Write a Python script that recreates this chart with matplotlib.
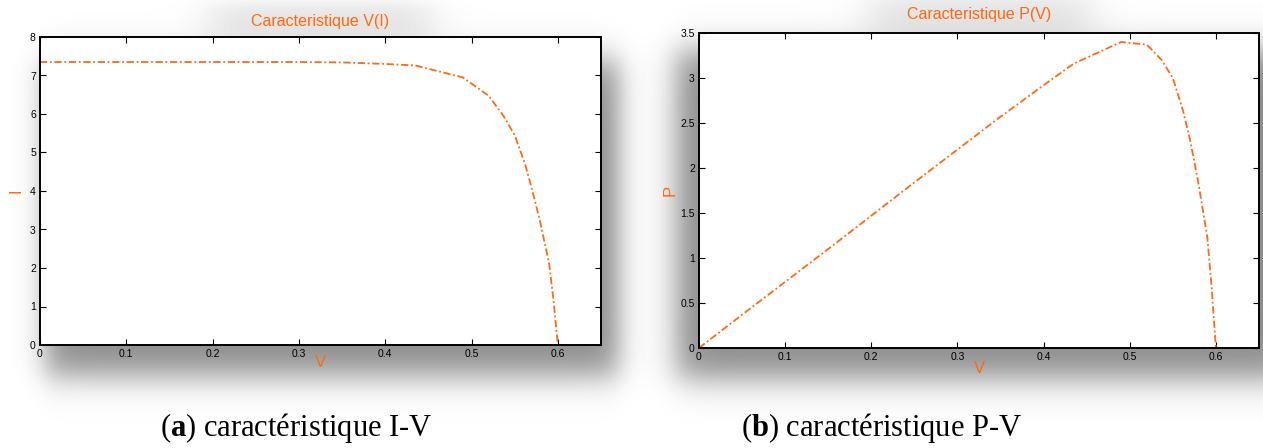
import numpy as np
import matplotlib
matplotlib.use("Agg")
import matplotlib.pyplot as plt

# ---------------- Data ----------------
V_IV = [0.0, 0.05, 0.10, 0.15, 0.20, 0.25, 0.30, 0.35, 0.40, 0.435, 0.49,
        0.52, 0.537, 0.55, 0.562, 0.57, 0.579, 0.59, 0.595, 0.60]
I_vals = [7.35, 7.35, 7.35, 7.35, 7.35, 7.35, 7.35, 7.34, 7.30, 7.26, 6.95,
          6.47, 5.95, 5.45, 4.70, 4.05, 3.25, 2.10, 1.15, 0.0]

V_PV = [0.0, 0.05, 0.10, 0.15, 0.20, 0.25, 0.30, 0.35, 0.40, 0.435, 0.49,
        0.52, 0.537, 0.55, 0.562, 0.57, 0.579, 0.59, 0.595, 0.60]
P_vals = [0.0, 0.37, 0.735, 1.10, 1.47, 1.84, 2.205, 2.57, 2.92, 3.16, 3.40,
          3.37, 3.20, 3.00, 2.63, 2.31, 1.87, 1.23, 0.68, 0.0]

IV_xticks = [0, 0.1, 0.2, 0.3, 0.4, 0.5, 0.6]
IV_yticks = [0, 1, 2, 3, 4, 5, 6, 7, 8]
PV_yticks = [0, 0.5, 1, 1.5, 2, 2.5, 3, 3.5]

ORANGE = "#ff6a10"
SANS = ["Liberation Sans", "DejaVu Sans"]

plt.rcParams["mathtext.fontset"] = "custom"
plt.rcParams["mathtext.rm"] = "Liberation Serif"
plt.rcParams["mathtext.bf"] = "Liberation Serif:bold"

W, H = 1263, 448
fig = plt.figure(figsize=(W / 100, H / 100), dpi=100)

# -------- soft drop shadows behind the panels --------
def band(t, a, b, w):
    return 0.5 * (np.tanh((t - a) / w) - np.tanh((t - b) / w))

xx = np.arange(W)
yy = np.arange(H)
shade = np.zeros((H, W))
# left panel shadow (right / bottom)
shade += 0.45 * np.outer(band(yy, 60, 375, 20), band(xx, 45, 618, 16))
# right panel shadow (left / bottom)
shade += 0.45 * np.outer(band(yy, 50, 378, 20), band(xx, 676, 1300, 18))
# haze around titles
shade += 0.10 * np.outer(band(yy, 2, 40, 10), band(xx, 210, 430, 25))
shade += 0.10 * np.outer(band(yy, -5, 35, 10), band(xx, 870, 1090, 25))
shade = np.clip(shade, 0, 0.5)

rgba = np.zeros((H, W, 4))
rgba[..., 3] = shade
ax_bg = fig.add_axes([0, 0, 1, 1], zorder=0)
ax_bg.imshow(rgba, extent=[0, W, H, 0], aspect="auto", interpolation="bilinear")
ax_bg.set_xlim(0, W)
ax_bg.set_ylim(H, 0)
ax_bg.axis("off")


def style_axes(ax):
    ax.set_facecolor("white")
    for s in ax.spines.values():
        s.set_linewidth(1.4)
        s.set_color("black")
    ax.tick_params(direction="in", length=4, width=0.8, top=True, right=True,
                   labelsize=7.5, pad=3, colors="black")
    for lab in ax.get_xticklabels() + ax.get_yticklabels():
        lab.set_family(SANS)


# -------- (a) I-V --------
ax_iv = fig.add_axes([40 / W, 1 - 345 / H, 561 / W, 308 / H], zorder=2)
ax_iv.plot(V_IV, I_vals, color=ORANGE, lw=1.3, linestyle=(0, (4, 1.5, 1, 1.5)))
ax_iv.set_xlim(0, 0.65)
ax_iv.set_ylim(0, 8)
ax_iv.set_xticks(IV_xticks)
ax_iv.set_xticklabels([f"{t:g}" for t in IV_xticks])
ax_iv.set_yticks(IV_yticks)
style_axes(ax_iv)
ax_iv.set_title("Caracteristique V(I)", color=ORANGE, fontsize=11.5,
                family=SANS, pad=8)
ax_iv.set_xlabel("V", color=ORANGE, fontsize=12, family=SANS, labelpad=-3)
ax_iv.set_ylabel("I", color=ORANGE, fontsize=12, family=SANS, labelpad=5)

# -------- (b) P-V --------
ax_pv = fig.add_axes([699 / W, 1 - 348 / H, 560 / W, 315 / H], zorder=2)
ax_pv.plot(V_PV, P_vals, color=ORANGE, lw=1.3, linestyle=(0, (4, 1.5, 1, 1.5)))
ax_pv.set_xlim(0, 0.65)
ax_pv.set_ylim(0, 3.5)
ax_pv.set_xticks(IV_xticks)
ax_pv.set_xticklabels([f"{t:g}" for t in IV_xticks])
ax_pv.set_yticks(PV_yticks)
ax_pv.set_yticklabels([f"{t:g}" for t in PV_yticks])
style_axes(ax_pv)
ax_pv.set_title("Caracteristique P(V)", color=ORANGE, fontsize=11.5,
                family=SANS, pad=10)
ax_pv.set_xlabel("V", color=ORANGE, fontsize=12, family=SANS, labelpad=-1)
ax_pv.set_ylabel("P", color=ORANGE, fontsize=12, family=SANS, labelpad=2)

# -------- captions --------
fig.text(296 / W, 1 - 428 / H, r"($\mathbf{a}$) caractéristique I-V",
         ha="center", va="center", fontsize=22, family="Liberation Serif")
fig.text(882 / W, 1 - 428 / H, r"($\mathbf{b}$) caractéristique P-V",
         ha="center", va="center", fontsize=22, family="Liberation Serif")

fig.savefig("out.png", dpi=100)
